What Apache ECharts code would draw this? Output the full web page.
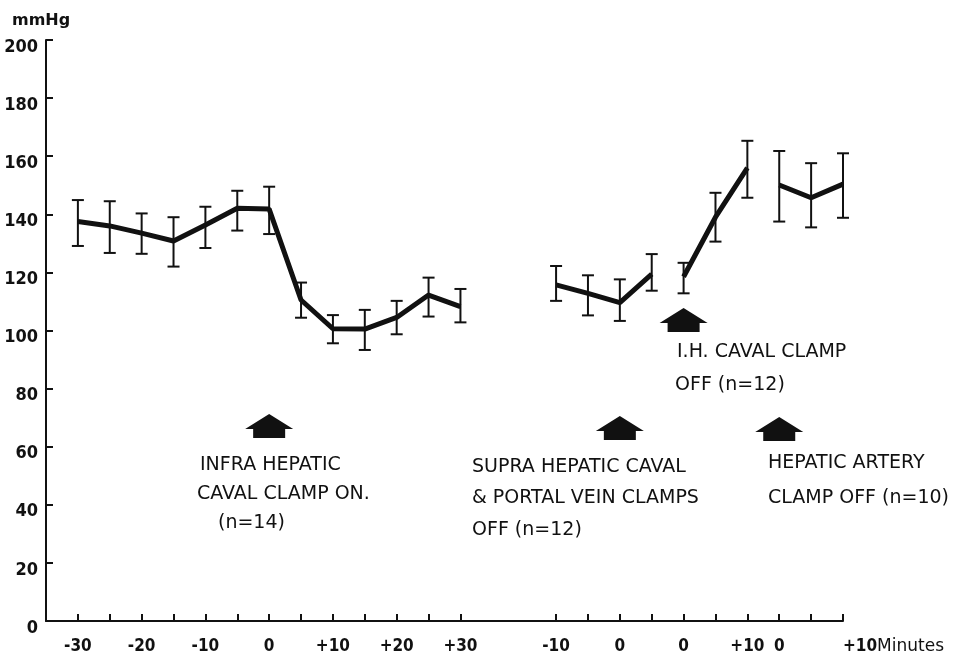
<!DOCTYPE html>
<html><head><meta charset="utf-8">
<script src="https://cdn.jsdelivr.net/npm/echarts@6/dist/echarts.min.js"></script>
<style>html,body{margin:0;padding:0;background:#fff}#c{width:956px;height:658px}</style>
</head><body><div id="c"></div>
<script>
// x slots: every slot is 5 minutes; slot -1 is the axis origin
const categories = ['-1','0','1','2','3','4','5','6','7','8','9','10','11','12','13','14','15','16','17','18','19','20','21','22','23','24'];
const tickLabels = ['', '-30', '', '-20', '', '-10', '', '0', '', '+10', '', '+20', '', '+30', '', '', '-10', '', '0', '', '0', '', '+10', '0', '', '+10Minutes'];
const tickShown = [false,true,true,true,true,true,true,true,true,true,true,true,true,true,false,false,true,true,true,true,true,true,true,true,true,true];
const yTicks = [0,20,40,60,80,100,120,140,160,180,200];

// Segment 1: infra hepatic caval clamp on (n=14)
const seg1Slots = ['0','1','2','3','4','5','6','7','8','9','10','11','12'];
const seg1Mean = [137.5,136.0,133.5,130.8,136.3,142.1,141.8,110.5,100.6,100.5,104.5,112.2,108.2];
const seg1Low  = [129.1,126.7,126.4,122.0,128.4,134.4,133.2,104.4,95.6,93.3,98.7,104.8,102.8];
const seg1High = [144.9,144.5,140.3,139.0,142.6,148.1,149.5,116.5,105.3,107.1,110.2,118.2,114.3];
// Segment 2: supra hepatic caval & portal vein clamps off (n=12)
const seg2Slots = ['15','16','17','18'];
const seg2Mean = [115.7,112.8,109.6,119.4];
const seg2Low  = [110.2,105.2,103.3,113.7];
const seg2High = [122.2,119.0,117.6,126.3];
// Segment 3: I.H. caval clamp off (n=12)
const seg3Slots = ['19','20','21'];
const seg3Mean = [118.5,139.0,156.0];
const seg3Low  = [112.8,130.6,145.7];
const seg3High = [123.3,147.4,165.3];
// Segment 4: hepatic artery clamp off (n=10)
const seg4Slots = ['22','23','24'];
const seg4Mean = [150.1,145.7,150.4];
const seg4Low  = [137.5,135.5,138.8];
const seg4High = [161.8,157.6,161.0];

const segments = [
  [seg1Slots, seg1Mean, seg1Low, seg1High],
  [seg2Slots, seg2Mean, seg2Low, seg2High],
  [seg3Slots, seg3Mean, seg3Low, seg3High],
  [seg4Slots, seg4Mean, seg4Low, seg4High]
];

const FONT = "'DejaVu Sans Condensed', 'DejaVu Sans', sans-serif";
const INK = '#111';

const chart = echarts.init(document.getElementById('c'), null, {renderer: 'canvas'});

const series = [];
const errData = [];
segments.forEach(([s, m, lo, hi]) => {
  series.push({
    type: 'line', data: s.map((k, i) => [k, m[i]]),
    symbol: 'none', lineStyle: {color: INK, width: 5}, z: 3, silent: true, animation: false
  });
  s.forEach((k, i) => errData.push([k, lo[i], hi[i]]));
});
series.push({
  type: 'custom', data: errData, z: 2, silent: true, animation: false,
  encode: {x: 0, y: [1, 2]},
  renderItem: function (params, api) {
    const x = api.value(0);
    const p1 = api.coord([x, api.value(1)]);
    const p2 = api.coord([x, api.value(2)]);
    const hw = 6;
    const st = {stroke: INK, lineWidth: 2};
    return {type: 'group', children: [
      {type: 'line', shape: {x1: p1[0], y1: p1[1], x2: p2[0], y2: p2[1]}, style: st},
      {type: 'line', shape: {x1: p1[0]-hw, y1: p1[1], x2: p1[0]+hw, y2: p1[1]}, style: st},
      {type: 'line', shape: {x1: p2[0]-hw, y1: p2[1], x2: p2[0]+hw, y2: p2[1]}, style: st}
    ]};
  }
});

chart.setOption({
  animation: false,
  backgroundColor: '#fff',
  title: {text: 'mmHg', left: 7, top: 8, textStyle: {fontFamily: "'DejaVu Sans', sans-serif", fontSize: 16, fontWeight: 'bold', color: INK}},
  grid: {left: 46, right: 113, top: 40, bottom: 37, containLabel: false},
  xAxis: {
    type: 'category', data: categories, boundaryGap: false,
    axisLine: {lineStyle: {color: INK, width: 2}},
    axisTick: {show: true, inside: true, length: 7, lineStyle: {color: INK, width: 2},
      interval: (idx) => tickShown[idx]},
    axisLabel: {
      interval: (idx) => tickLabels[idx] !== '',
      formatter: (v, idx) => idx === tickLabels.length - 1 ? '{n|+10}{m|Minutes}' : tickLabels[idx],
      margin: 17, color: INK, fontFamily: FONT, fontSize: 17, fontWeight: 'bold',
      alignMaxLabel: 'left',
      rich: {
        n: {fontFamily: FONT, fontSize: 17, fontWeight: 'bold', color: INK},
        m: {fontFamily: "'DejaVu Sans', sans-serif", fontSize: 17, fontWeight: 'normal', color: INK}
      }
    },
    splitLine: {show: false}
  },
  yAxis: {
    type: 'value', min: yTicks[0], max: yTicks[yTicks.length - 1], interval: yTicks[1] - yTicks[0],
    axisLine: {show: true, lineStyle: {color: INK, width: 2}},
    axisTick: {show: true, inside: true, length: 7, lineStyle: {color: INK, width: 2}},
    axisLabel: {margin: 8, color: INK, fontFamily: FONT, fontSize: 18, fontWeight: 'bold',
      verticalAlign: 'top', lineHeight: 14},
    splitLine: {show: false}
  },
  series: series
});

// annotations: arrows anchored on their time slots
function arrow(slot, tipY) {
  const x = chart.convertToPixel({xAxisIndex: 0}, slot);
  return {type: 'polygon', silent: true,
    shape: {points: [[x, tipY], [x + 24, tipY + 15], [x + 16, tipY + 15], [x + 16, tipY + 24],
                     [x - 16, tipY + 24], [x - 16, tipY + 15], [x - 24, tipY + 15]]},
    style: {fill: INK}};
}
const AF = "19px 'DejaVu Sans', sans-serif";
function txt(s, x, y) {
  return {type: 'text', x: x, y: y, silent: true,
    style: {text: s, font: AF, fill: INK, align: 'left', verticalAlign: 'middle'}};
}
chart.setOption({graphic: [
  arrow('6', 414), arrow('17', 416), arrow('19', 308), arrow('22', 417),
  txt('INFRA HEPATIC', 200, 465),
  txt('CAVAL CLAMP ON.', 197, 494),
  txt('(n=14)', 218, 523),
  txt('SUPRA HEPATIC CAVAL', 472, 467),
  txt('& PORTAL VEIN CLAMPS', 472, 498),
  txt('OFF (n=12)', 472, 530),
  txt('I.H. CAVAL CLAMP', 677, 352),
  txt('OFF (n=12)', 675, 385),
  txt('HEPATIC ARTERY', 768, 463),
  txt('CLAMP OFF (n=10)', 768, 498)
]});
</script>
</body></html>
